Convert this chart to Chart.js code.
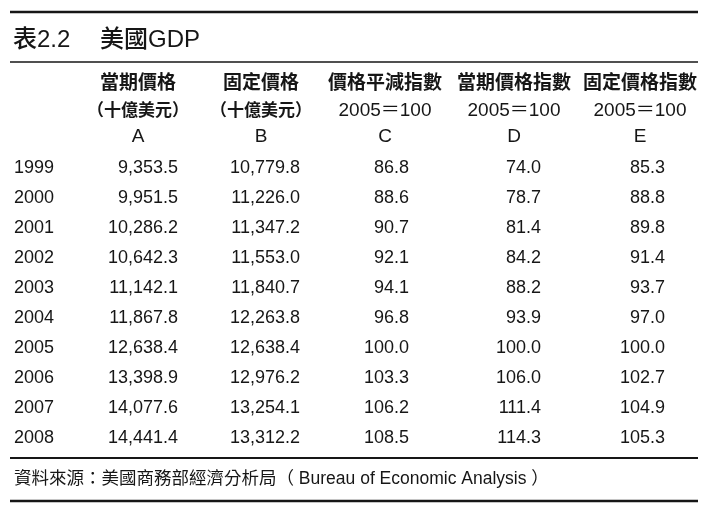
<!DOCTYPE html>
<html>
<head>
<meta charset="utf-8">
<script src="https://cdn.jsdelivr.net/npm/chart.js@4.4.1/dist/chart.umd.min.js"></script>
<style>
  html, body { margin: 0; padding: 0; background: #fff; }
  #wrap { width: 721px; height: 515px; }
</style>
</head>
<body>
<div id="wrap"><canvas id="tabla" width="721" height="515"></canvas></div>
<script>
// Datos de la tabla
const titulo = ['表2.2', '美國GDP'];
const anios = ['1999', '2000', '2001', '2002', '2003', '2004', '2005', '2006', '2007', '2008'];
const pibNominal = [9353.5, 9951.5, 10286.2, 10642.3, 11142.1, 11867.8, 12638.4, 13398.9, 14077.6, 14441.4];
const pibReal = [10779.8, 11226.0, 11347.2, 11553.0, 11840.7, 12263.8, 12638.4, 12976.2, 13254.1, 13312.2];
const deflactor = [86.8, 88.6, 90.7, 92.1, 94.1, 96.8, 100.0, 103.3, 106.2, 108.5];
const indiceNominal = [74.0, 78.7, 81.4, 84.2, 88.2, 93.9, 100.0, 106.0, 111.4, 114.3];
const indiceReal = [85.3, 88.8, 89.8, 91.4, 93.7, 97.0, 100.0, 102.7, 104.9, 105.3];
const encabezado1 = ['當期價格', '固定價格', '價格平減指數', '當期價格指數', '固定價格指數'];
const encabezado2 = ['（十億美元）', '（十億美元）', '2005＝100', '2005＝100', '2005＝100'];
const letras = ['A', 'B', 'C', 'D', 'E'];
const fuente = '資料來源：美國商務部經濟分析局（ Bureau of Economic Analysis ）';

const columnas = [pibNominal, pibReal, deflactor, indiceNominal, indiceReal];

// Posiciones (en unidades de las escalas, que van de 0 a 721 y de 0 a 515)
const xAnio = 14;
const xDerecha = [178, 300, 409, 541, 665];
const xCentro = [138, 261, 385, 514, 640];
const yFila0 = 168, pasoFila = 30;
const yEnc = [84, 111, 137];
const yLineas = [[12, 2.6], [62, 1.6], [458, 2], [501, 2.6]];
const xLinea = [10, 698];

const FAM = '"Liberation Sans", "Noto Sans CJK TC", sans-serif';
const TINTA = '#161616';

function formato(v, miles) {
  return v.toLocaleString('en-US', { minimumFractionDigits: 1, maximumFractionDigits: 1, useGrouping: miles });
}

// Plugin que dibuja la tabla usando las escalas del gráfico
const dibujarTabla = {
  id: 'dibujarTabla',
  afterDraw(chart) {
    const ctx = chart.ctx;
    const sx = chart.scales.x, sy = chart.scales.y;
    const X = v => sx.getPixelForValue(v);
    const Y = v => sy.getPixelForValue(v);
    ctx.save();
    ctx.fillStyle = TINTA;
    ctx.strokeStyle = TINTA;

    // Líneas horizontales
    yLineas.forEach(([y, w]) => {
      ctx.lineWidth = w;
      ctx.beginPath();
      ctx.moveTo(X(xLinea[0]), Y(y));
      ctx.lineTo(X(xLinea[1]), Y(y));
      ctx.stroke();
    });

    ctx.textBaseline = 'middle';

    // Título
    ctx.textAlign = 'left';
    ctx.font = '500 24px ' + FAM;
    ctx.fillText(titulo[0], X(13), Y(40));
    ctx.fillText(titulo[1], X(100), Y(40));

    // Encabezados
    ctx.textAlign = 'center';
    for (let c = 0; c < letras.length; c++) {
      ctx.font = 'bold 19px ' + FAM;
      ctx.fillText(encabezado1[c], X(xCentro[c]), Y(yEnc[0]));
      ctx.font = (c < 2 ? 'bold 17px ' : '19px ') + FAM;
      ctx.fillText(encabezado2[c], X(xCentro[c]), Y(yEnc[1]));
      ctx.font = '19px ' + FAM;
      ctx.fillText(letras[c], X(xCentro[c]), Y(yEnc[2]));
    }

    // Filas de datos
    ctx.font = '18px ' + FAM;
    for (let i = 0; i < anios.length; i++) {
      const y = Y(yFila0 + i * pasoFila);
      ctx.textAlign = 'left';
      ctx.fillText(anios[i], X(xAnio), y);
      ctx.textAlign = 'right';
      columnas.forEach((col, c) => {
        ctx.fillText(formato(col[i], c < 2), X(xDerecha[c]), y);
      });
    }

    // Fuente
    ctx.textAlign = 'left';
    ctx.font = '17.5px ' + FAM;
    ctx.fillText(fuente, X(14), Y(479));
    ctx.restore();
  }
};

new Chart(document.getElementById('tabla'), {
  type: 'scatter',
  data: { datasets: [{ data: [], pointRadius: 0 }] },
  options: {
    responsive: false,
    animation: false,
    layout: { padding: 0 },
    plugins: { legend: { display: false }, tooltip: { enabled: false } },
    scales: {
      x: { type: 'linear', min: 0, max: 721, display: false },
      y: { type: 'linear', min: 0, max: 515, reverse: true, display: false }
    }
  },
  plugins: [dibujarTabla]
});
</script>
</body>
</html>
